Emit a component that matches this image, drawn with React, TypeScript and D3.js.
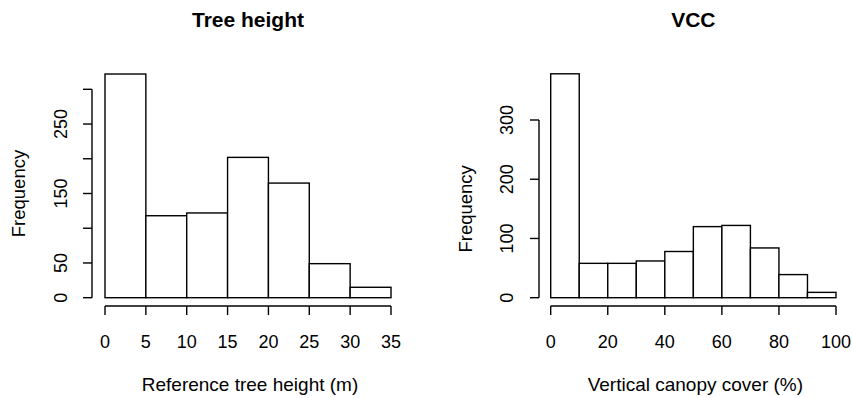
import React from "react";
import * as d3 from "d3";

// Histogram bins and counts
const heightBreaks = [0, 5, 10, 15, 20, 25, 30, 35];
const heightCounts = [322, 118, 122, 202, 165, 49, 15];
const heightXTicks = [0, 5, 10, 15, 20, 25, 30, 35];
const heightYTicks = [0, 50, 100, 150, 200, 250, 300];
const heightYLabelled = [0, 50, 150, 250];

const vccBreaks = [0, 10, 20, 30, 40, 50, 60, 70, 80, 90, 100];
const vccCounts = [378, 58, 58, 62, 78, 120, 122, 84, 39, 9];
const vccXTicks = [0, 20, 40, 60, 80, 100];
const vccYTicks = [0, 100, 200, 300];
const vccYLabelled = [0, 100, 200, 300];

const FONT = "'Liberation Sans', Arial, Helvetica, sans-serif";
const W = 852;
const H = 398;

type PanelProps = {
  title: string;
  xTitle: string;
  breaks: number[];
  counts: number[];
  xTicks: number[];
  yTicks: number[];
  yLabelled: number[];
  xRange: [number, number];
  yRange: [number, number];
  yAxisX: number;
  yLabelX: number;
  yTitleX: number;
};

function Panel(p: PanelProps) {
  const x = d3
    .scaleLinear()
    .domain([p.xTicks[0], p.xTicks[p.xTicks.length - 1]])
    .range(p.xRange);
  const y = d3
    .scaleLinear()
    .domain([0, p.yTicks[p.yTicks.length - 1]])
    .range(p.yRange);

  const xAxisY = 306;
  const stroke = "#000";
  const sw = 1.4;
  const cx = (p.xRange[0] + p.xRange[1]) / 2;
  const cy = (y(0) + y(p.yTicks[p.yTicks.length - 1])) / 2;

  return (
    <g>
      <text
        x={cx}
        y={27}
        textAnchor="middle"
        fontFamily={FONT}
        fontWeight="bold"
        fontSize={21}
      >
        {p.title}
      </text>

      {p.counts.map((c, i) => (
        <rect
          key={i}
          x={x(p.breaks[i])}
          y={y(c)}
          width={x(p.breaks[i + 1]) - x(p.breaks[i])}
          height={y(0) - y(c)}
          fill="#fff"
          stroke={stroke}
          strokeWidth={sw}
        />
      ))}

      {/* x axis */}
      <line
        x1={x(p.xTicks[0])}
        x2={x(p.xTicks[p.xTicks.length - 1])}
        y1={xAxisY}
        y2={xAxisY}
        stroke={stroke}
        strokeWidth={sw}
      />
      {p.xTicks.map((t) => (
        <g key={t}>
          <line
            x1={x(t)}
            x2={x(t)}
            y1={xAxisY}
            y2={xAxisY + 9}
            stroke={stroke}
            strokeWidth={sw}
          />
          <text
            x={x(t)}
            y={347.5}
            textAnchor="middle"
            fontFamily={FONT}
            fontSize={18}
          >
            {t}
          </text>
        </g>
      ))}
      <text
        x={cx + 2}
        y={391}
        textAnchor="middle"
        fontFamily={FONT}
        fontSize={19}
      >
        {p.xTitle}
      </text>

      {/* y axis */}
      <line
        x1={p.yAxisX}
        x2={p.yAxisX}
        y1={y(0)}
        y2={y(p.yTicks[p.yTicks.length - 1])}
        stroke={stroke}
        strokeWidth={sw}
      />
      {p.yTicks.map((t) => (
        <line
          key={t}
          x1={p.yAxisX - 9}
          x2={p.yAxisX}
          y1={y(t)}
          y2={y(t)}
          stroke={stroke}
          strokeWidth={sw}
        />
      ))}
      {p.yLabelled.map((t) => (
        <text
          key={t}
          transform={`translate(${p.yLabelX},${y(t)}) rotate(-90)`}
          textAnchor="middle"
          fontFamily={FONT}
          fontSize={18}
        >
          {t}
        </text>
      ))}
      <text
        transform={`translate(${p.yTitleX},${cy}) rotate(-90)`}
        textAnchor="middle"
        fontFamily={FONT}
        fontSize={18.5}
      >
        Frequency
      </text>
    </g>
  );
}

export default function App() {
  return (
    <svg
      width={W}
      height={H}
      style={{ position: "absolute", left: 0, top: 0, background: "#fff" }}
    >
      <rect width={W} height={H} fill="#fff" />
      <Panel
        title="Tree height"
        xTitle="Reference tree height (m)"
        breaks={heightBreaks}
        counts={heightCounts}
        xTicks={heightXTicks}
        yTicks={heightYTicks}
        yLabelled={heightYLabelled}
        xRange={[105, 391]}
        yRange={[297.7, 89.3]}
        yAxisX={92}
        yLabelX={67}
        yTitleX={25}
      />
      <Panel
        title="VCC"
        xTitle="Vertical canopy cover (%)"
        breaks={vccBreaks}
        counts={vccCounts}
        xTicks={vccXTicks}
        yTicks={vccYTicks}
        yLabelled={vccYLabelled}
        xRange={[550.7, 836]}
        yRange={[297.7, 120]}
        yAxisX={539}
        yLabelX={513}
        yTitleX={472}
      />
    </svg>
  );
}
